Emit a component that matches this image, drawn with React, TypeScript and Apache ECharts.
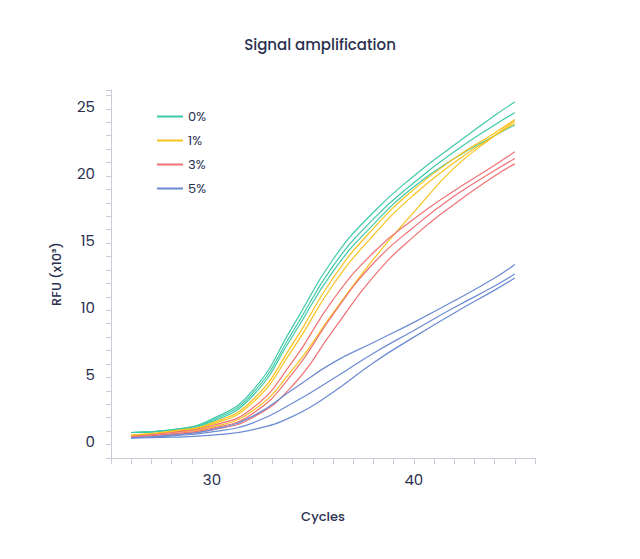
import React, { useEffect, useRef } from "react";
import * as echarts from "echarts";

const cycles = [26, 28, 30, 32, 34, 36, 38, 40, 42, 44, 45];
const groups = ["0%", "1%", "3%", "5%"];
const colors = ["#3ec9a7", "#f7c21c", "#f07275", "#6b8cd2"];
const g0 = [
  [0.7, 0.9, 1.7, 3.8, 8.6, 13.6, 17.1, 19.8, 22.1, 24.3, 25.3],
  [0.7, 0.9, 1.6, 3.6, 8.2, 13.1, 16.6, 19.3, 21.6, 23.6, 24.5],
  [0.7, 0.85, 1.5, 3.4, 7.9, 12.7, 16.2, 19.0, 21.1, 22.8, 23.6],
];
const g1 = [
  [0.5, 0.8, 1.4, 3.1, 7.3, 12.2, 15.9, 18.8, 21.1, 23.0, 24.0],
  [0.5, 0.75, 1.3, 2.9, 6.9, 11.7, 15.4, 18.4, 20.8, 22.8, 23.7],
  [0.5, 0.7, 1.1, 2.3, 5.4, 9.6, 13.6, 17.1, 20.4, 22.8, 23.9],
];
const g3 = [
  [0.4, 0.7, 1.2, 2.5, 6.0, 10.6, 14.1, 16.6, 18.7, 20.6, 21.6],
  [0.4, 0.6, 1.0, 2.1, 5.1, 9.5, 13.3, 16.0, 18.3, 20.2, 21.1],
  [0.4, 0.55, 0.9, 1.8, 4.2, 8.3, 12.3, 15.3, 17.7, 19.8, 20.7],
];
const g5 = [
  [0.3, 0.5, 0.9, 1.9, 3.9, 5.9, 7.4, 8.9, 10.5, 12.2, 13.2],
  [0.3, 0.45, 0.75, 1.4, 2.9, 4.7, 6.6, 8.3, 10.0, 11.6, 12.5],
  [0.3, 0.35, 0.5, 0.9, 1.9, 3.7, 5.9, 7.8, 9.6, 11.3, 12.2],
];
const allGroups = [g0, g1, g3, g5];
const xLabels = [30, 40];
const yLabels = [0, 5, 10, 15, 20, 25];

export default function App() {
  const ref = useRef<HTMLDivElement>(null);
  useEffect(() => {
    const chart = echarts.init(ref.current!, null, { renderer: "svg" });
    const series: any[] = [];
    allGroups.forEach((g, gi) =>
      g.forEach((vals) =>
        series.push({
          name: groups[gi],
          type: "line",
          smooth: 0.5,
          showSymbol: false,
          color: colors[gi],
          lineStyle: { width: 1.2, color: colors[gi] },
          data: cycles.map((c, i) => [c, vals[i]]),
        })
      )
    );
    const txt = "#2b3050";
    chart.setOption({
      animation: false,
      textStyle: { fontFamily: "Poppins, 'Noto Sans', sans-serif" },
      title: {
        text: "Signal amplification",
        left: "center",
        top: 24,
        textStyle: { fontSize: 15, fontWeight: 500, color: txt },
      },
      legend: {
        orient: "vertical",
        left: 144,
        top: 97,
        itemWidth: 26,
        itemHeight: 2,
        itemGap: 11,
        icon: "rect",
        data: groups,
        textStyle: { color: txt, fontSize: 13 },
      },
      grid: { left: 103, top: 82, right: 97, bottom: 93 },
      xAxis: {
        type: "value",
        min: 25,
        max: 46,
        interval: 1,
        name: "Cycles",
        nameLocation: "middle",
        nameGap: 52,
        nameTextStyle: { color: txt, fontSize: 13, fontWeight: 500 },
        axisLine: { onZero: false, lineStyle: { color: "#c9cbd6" } },
        axisTick: {
          interval: (i: number, v: any) => Number(v) % 2 === 0,
          length: 6,
          lineStyle: { color: "#c9cbd6" },
        },
        axisLabel: {
          color: txt,
          fontSize: 15,
          margin: 14,
          formatter: (v: number) => (xLabels.includes(v) ? String(v) : ""),
        },
        splitLine: { show: false },
      },
      yAxis: {
        type: "value",
        min: -1.2,
        max: 26.2,
        interval: 1,
        name: "RFU (x10³)",
        nameLocation: "middle",
        nameGap: 48,
        nameTextStyle: { color: txt, fontSize: 13, fontWeight: 500 },
        axisLine: { show: true, lineStyle: { color: "#c9cbd6" } },
        axisTick: { show: true, length: 5, lineStyle: { color: "#c9cbd6" } },
        axisLabel: {
          color: txt,
          fontSize: 15,
          margin: 16,
          customValues: yLabels,
        },
        splitLine: { show: false },
      },
      series,
    });
    return () => chart.dispose();
  }, []);
  return <div ref={ref} style={{ width: 624, height: 543 }} />;
}
